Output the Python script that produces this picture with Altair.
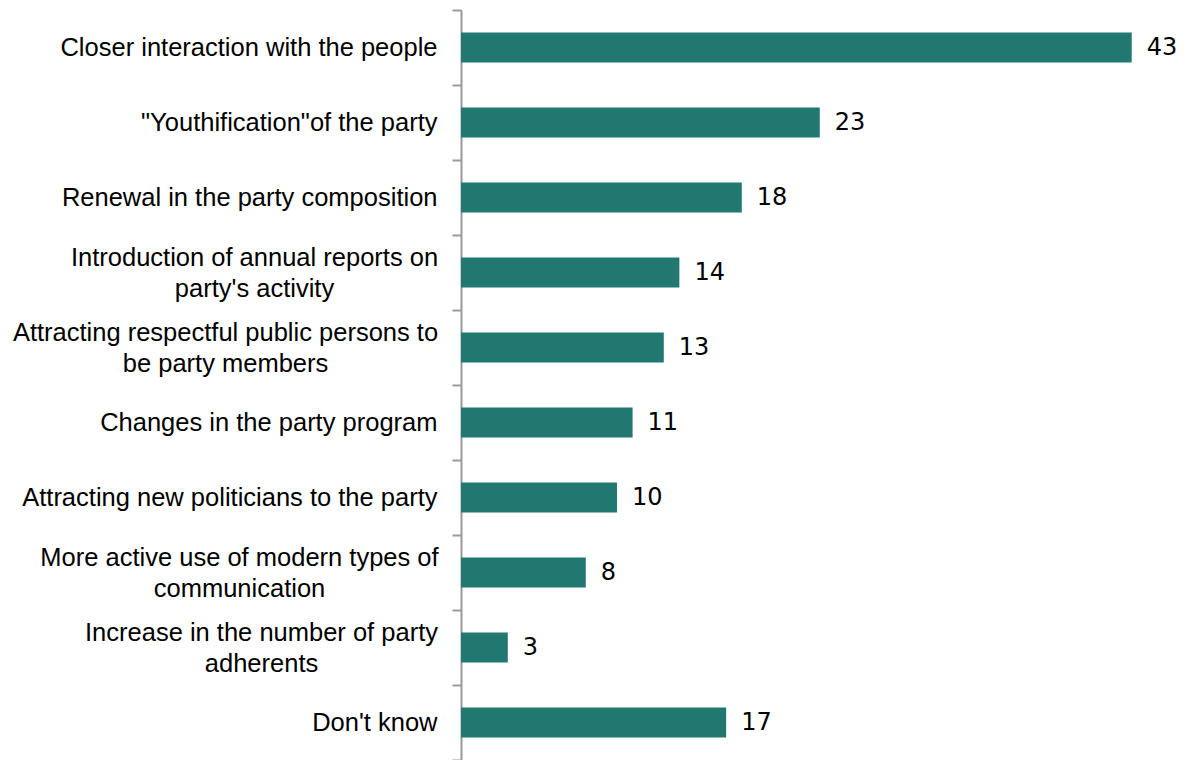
import altair as alt
import pandas as pd

categories = [
    "Closer interaction with the people",
    "\"Youthification\"of the party",
    "Renewal in the party composition",
    "Introduction of annual reports on|party's activity",
    "Attracting respectful public persons to|be party members",
    "Changes in the party program",
    "Attracting new politicians to the party",
    "More active use of modern  types of|communication",
    "Increase in the number of party|adherents",
    "Don't know",
]
values = [43, 23, 18, 14, 13, 11, 10, 8, 3, 17]

df = pd.DataFrame({"cat": categories, "val": values})

FONT = "Liberation Sans"
MULTI = "isString(datum.value) && indexof(datum.value, '|') >= 0"


def starts(word):
    return f"isString(datum.value) && indexof(datum.value, '{word}') == 0 && indexof(datum.value, '|') >= 0"


# padding that puts the centre of each two-line label's block where the
# right-aligned first line would be centred (text is centred in the reference)
label_padding = {
    "condition": [
        {"test": starts("Introduction"), "value": 198},
        {"test": starts("Attracting"), "value": 227},
        {"test": starts("More"), "value": 213},
        {"test": starts("Increase"), "value": 191},
    ],
    "value": 15,
}

y_enc = alt.Y(
    "cat:N",
    sort=categories,
    title=None,
    scale=alt.Scale(paddingInner=0, paddingOuter=0),
    axis=alt.Axis(
        labelExpr="split(datum.label, '|')",
        labelFont=FONT,
        labelFontSize=25.5,
        labelColor="#000000",
        labelLineHeight=31,
        labelPadding=label_padding,
        labelAlign={"condition": {"test": MULTI, "value": "center"}, "value": "right"},
        labelLimit=600,
        labelOffset={"condition": {"test": MULTI, "value": -15}, "value": 0},
        tickBand="extent",
        tickSize=9,
        tickColor="#9a9a9a",
        tickWidth=2,
        domainColor="#9a9a9a",
        domainWidth=2,
        grid=False,
    ),
)
x_enc = alt.X(
    "val:Q",
    title=None,
    scale=alt.Scale(domain=[0, 46.8], nice=False),
    axis=None,
)

bars = alt.Chart(df).mark_bar(color="#207870", height={"band": 0.4}).encode(x=x_enc, y=y_enc)
labels = alt.Chart(df).mark_text(
    align="left", baseline="middle", dx=15, font="DejaVu Sans", fontSize=24, color="#000000"
).encode(x=x_enc, y=alt.Y("cat:N", sort=categories), text="val:Q")

chart = (
    alt.layer(bars, labels)
    .properties(
        width=730,
        height=750,
        padding={"left": 461, "top": 10, "right": 0, "bottom": 0},
        autosize=alt.AutoSizeParams(type="none"),
    )
    .configure_view(stroke=None)
)

chart.save("out.html", embed_options={"renderer": "svg", "actions": False})
